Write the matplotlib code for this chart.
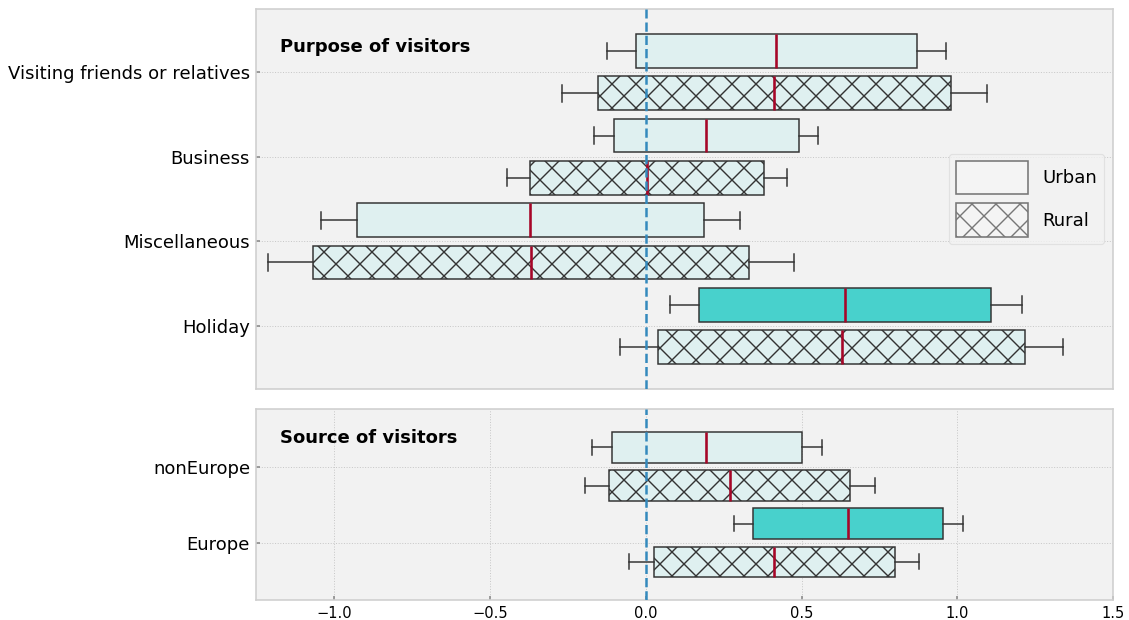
import matplotlib
matplotlib.use("Agg")
import matplotlib.pyplot as plt
from matplotlib.patches import Patch

# Box statistics per row: whisker low, Q1, median, Q3, whisker high
purpose_labels = ["Visiting friends or relatives", "Business", "Miscellaneous", "Holiday"]
purpose_urban = [
    [-0.124, -0.031, 0.418, 0.870, 0.963],
    [-0.165, -0.103, 0.193, 0.491, 0.553],
    [-1.042, -0.925, -0.371, 0.187, 0.302],
    [0.077, 0.172, 0.640, 1.109, 1.206],
]
purpose_rural = [
    [-0.269, -0.153, 0.412, 0.979, 1.095],
    [-0.446, -0.370, 0.003, 0.378, 0.454],
    [-1.212, -1.068, -0.367, 0.330, 0.475],
    [-0.082, 0.039, 0.629, 1.217, 1.338],
]
purpose_highlight = [False, False, False, True]

source_labels = ["nonEurope", "Europe"]
source_urban = [
    [-0.172, -0.109, 0.195, 0.501, 0.564],
    [0.283, 0.345, 0.649, 0.954, 1.019],
]
source_rural = [
    [-0.195, -0.117, 0.270, 0.655, 0.734],
    [-0.054, 0.026, 0.410, 0.799, 0.876],
]
source_highlight = [False, True]

x_ticks = [-1.0, -0.5, 0.0, 0.5, 1.0, 1.5]

LIGHT = "#dff0f0"
TEAL = "#48d1cc"
EDGE = "#333333"
MEDIAN = "#a60628"
ZERO = "#348abd"
BG = "#f2f2f2"
HATCH = "xx"

plt.rcParams["font.family"] = ["DejaVu Sans"]
plt.rcParams["hatch.linewidth"] = 0.7
plt.rcParams["hatch.color"] = EDGE

fig = plt.figure(figsize=(1129 / 144, 620 / 144), dpi=144)
left, width = 0.22675, 0.75935
ax_top = fig.add_axes([left, 0.37210, width, 0.61387])
ax_bot = fig.add_axes([left, 0.03226, width, 0.30758])


def to_stats(rows):
    return [dict(whislo=r[0], q1=r[1], med=r[2], q3=r[3], whishi=r[4], fliers=[]) for r in rows]


def draw_panel(ax, labels, urban, rural, highlight, title, title_dy):
    n = len(labels)
    pos = list(range(n - 1, -1, -1))
    common = dict(
        widths=0.4,
        orientation="horizontal",
        patch_artist=True,
        showfliers=False,
        boxprops=dict(edgecolor=EDGE, linewidth=0.75),
        whiskerprops=dict(color=EDGE, linewidth=0.75),
        capprops=dict(color=EDGE, linewidth=0.75),
        medianprops=dict(color=MEDIAN, linewidth=1.3),
    )
    bu = ax.bxp(to_stats(urban), positions=[p + 0.25 for p in pos], **common)
    br = ax.bxp(to_stats(rural), positions=[p - 0.25 for p in pos], **common)
    for box, hl in zip(bu["boxes"], highlight):
        box.set_facecolor(TEAL if hl else LIGHT)
    for box in br["boxes"]:
        box.set_facecolor(LIGHT)
        box.set_hatch(HATCH)

    ax.axvline(0.0, color=ZERO, linestyle="--", linewidth=1.25, zorder=5)

    ax.set_facecolor(BG)
    ax.set_xlim(-1.25, 1.5)
    ax.set_ylim(-0.75, n - 0.25)
    ax.set_yticks(pos, labels)
    ax.set_xticks(x_ticks)
    ax.grid(True, color="#c8c8c8", linestyle=":", linewidth=0.5)
    ax.set_axisbelow(True)
    for s in ax.spines.values():
        s.set_color("#cfcfcf")
        s.set_linewidth(0.8)
    ax.tick_params(axis="y", labelsize=9, direction="in", length=2, pad=3, color="#888888")
    ax.tick_params(axis="x", labelsize=7.3, direction="in", length=2, pad=3, color="#888888")
    ax.annotate(title, xy=(0, 1), xycoords="axes fraction", xytext=(12, -title_dy),
                textcoords="offset points", fontsize=9, fontweight="bold",
                ha="left", va="center")


draw_panel(ax_top, purpose_labels, purpose_urban, purpose_rural, purpose_highlight,
           "Purpose of visitors", 19)
draw_panel(ax_bot, source_labels, source_urban, source_rural, source_highlight,
           "Source of visitors", 14.4)

# upper panel: no vertical grid and no x tick labels
ax_top.grid(False, axis="x")
ax_top.tick_params(axis="x", bottom=False, labelbottom=False)

handles = [
    Patch(facecolor="#f4f4f4", edgecolor="#777777", linewidth=0.8, label="Urban"),
    Patch(facecolor="#f4f4f4", edgecolor="#777777", linewidth=0.8, hatch=HATCH, label="Rural"),
]
leg = ax_top.legend(handles=handles, loc="center right", fontsize=9,
                    handlelength=4.0, handleheight=2.5, handletextpad=0.8,
                    labelspacing=0.5, fancybox=True, framealpha=0.8, edgecolor="#dddddd")
leg.get_frame().set_facecolor(BG)
leg.get_frame().set_linewidth(0.6)

fig.savefig("out.png", dpi=144)
